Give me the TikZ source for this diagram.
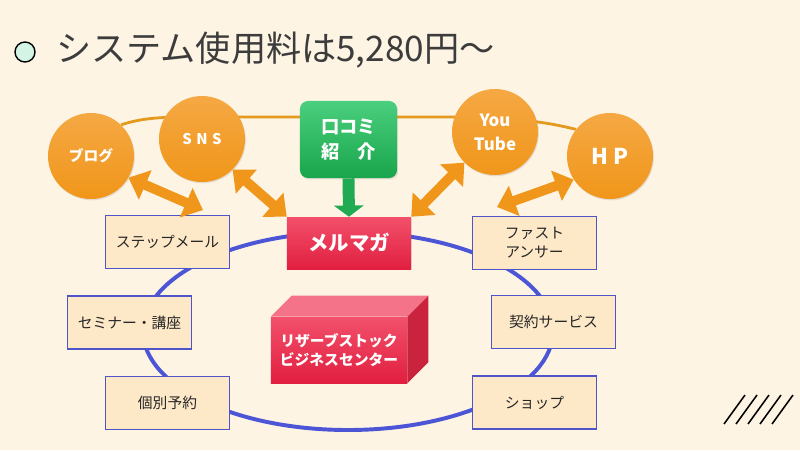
\documentclass[tikz,border=0pt]{standalone}
\usepackage{fontspec}
\setmainfont{Noto Sans CJK JP}
\usetikzlibrary{arrows.meta,shadows}

\definecolor{bgcream}{HTML}{FDF4E4}
\definecolor{orbitorange}{HTML}{E39A1E}
\definecolor{ballorange}{HTML}{F0961A}
\definecolor{balltop}{HTML}{F5A843}
\definecolor{ringblue}{HTML}{4B55D6}
\definecolor{menufill}{HTML}{FDE8C8}
\definecolor{menuline}{HTML}{4F55C8}
\definecolor{magtop}{HTML}{F2506B}
\definecolor{magbottom}{HTML}{E11F40}
\definecolor{cubetop}{HTML}{F57389}
\definecolor{cubeside}{HTML}{C9233E}
\definecolor{greentop}{HTML}{4ACF7E}
\definecolor{greenbottom}{HTML}{19A54B}
\definecolor{titlegray}{HTML}{3C3C3C}
\definecolor{mintdot}{HTML}{D4F4E6}

\pgfdeclarelayer{bg}
\pgfdeclarelayer{behind}
\pgfsetlayers{bg,behind,main}

\tikzset{
  media/.style={circle, minimum size=2.15cm, inner sep=0pt, top color=balltop, bottom color=ballorange,
    text=white, align=center, font=\bfseries\fontsize{10.5}{17}\selectfont,
    drop shadow={opacity=0.2, shadow xshift=0.6pt, shadow yshift=-0.9pt}},
  menu/.style={rectangle, draw=menuline, line width=1.1pt, fill=menufill, minimum width=3.1cm,
    minimum height=1.32cm, inner sep=0pt, align=center, text=black!85,
    font=\fontsize{10.5}{13.5}\selectfont},
  redbox/.style={rectangle, top color=magtop, bottom color=magbottom, inner sep=0pt, text=white,
    align=center, drop shadow={opacity=0.2, shadow xshift=0.8pt, shadow yshift=-1pt}},
  dblarrow/.style={draw=ballorange, line width=7pt,
    {Triangle[width=22pt,length=13pt]}-{Triangle[width=22pt,length=13pt]}},
  downarrow/.style={draw=greenbottom!85!greentop, line width=8.5pt,
    -{Triangle[width=21pt,length=8pt]}},
}

\begin{document}
\begin{tikzpicture}[x=0.025cm, y=-0.025cm]
  \begin{pgfonlayer}{bg}
    \fill[bgcream] (0,0) rectangle (800,450);
  \end{pgfonlayer}
  \useasboundingbox (0,0) rectangle (800,450);

  % title
  \node[circle, draw=black, line width=1pt, fill=mintdot, minimum size=0.5cm, inner sep=0pt] (dot) at (25,52) {};
  \node[anchor=west, inner sep=0pt, text=titlegray, font=\fontsize{25}{30}\selectfont] (title) at (56,50) {システム使用料は5,280円～};

  % media
  \node[media] (blog) at (91,156) {ブログ};
  \node[media] (sns) at (202,139) {S\hspace{0.3em}N\hspace{0.3em}S};
  \node[media, font=\bfseries\fontsize{12}{17}\selectfont] (yt) at (495,132) {You\\Tube};
  \node[media, font=\bfseries\fontsize{15.5}{18}\selectfont] (hp) at (610,156) {H P};

  % word of mouth, mail magazine
  \node[rounded corners=0.2cm, top color=greentop, bottom color=greenbottom, minimum width=2.425cm,
    minimum height=1.925cm, inner sep=0pt, text=white, align=center,
    font=\bfseries\fontsize{13}{17.5}\selectfont,
    drop shadow={opacity=0.2, shadow xshift=0.8pt, shadow yshift=-1pt}] (kuchi) at (348.5,139.5) {口コミ\\紹　介};
  \node[redbox, minimum width=3.1cm, minimum height=1.3cm, font=\bfseries\fontsize{14.5}{17}\selectfont] (mag) at (349,243) {メルマガ};

  % menus
  \node[menu] (step) at (167.5,242) {ステップメール};
  \node[menu] (semi) at (129.5,322.5) {セミナー・講座};
  \node[menu] (kobetsu) at (167.5,403) {個別予約};
  \node[menu] (fast) at (534.5,243) {ファスト\\アンサー};
  \node[menu] (keiyaku) at (553.5,322) {契約サービス};
  \node[menu] (shop) at (534.5,402.5) {ショップ};

  \begin{pgfonlayer}{behind}
    \draw[ringblue, line width=2.8pt] (348,331) ellipse [x radius=205, y radius=99];
    \draw[orbitorange, line width=2pt] (blog.46) .. controls (150,115) and (180,117) .. (250,117)
      -- (440,117) .. controls (520,117) and (550,123) .. (hp.142);
  \end{pgfonlayer}

  % arrows
  \coordinate (stepjoin) at (203,210);
  \coordinate (fastjoin) at (497,207);
  \draw[dblarrow] (blog.-30) -- (stepjoin);
  \draw[dblarrow] (sns.-45) -- (mag.north west);
  \draw[dblarrow] (yt.-135) -- (mag.north east);
  \draw[dblarrow] (hp.-147) -- (fastjoin);
  \draw[downarrow] (kuchi.south) -- (mag.north);

  % center block
  \node[redbox, minimum width=3.4cm, minimum height=1.65cm, font=\bfseries\fontsize{10.5}{14}\selectfont] (cube) at (339,350) {リザーブストック\\ビジネスセンター};
  \fill[cubetop] (cube.north west) -- ++(21,-21) -- ([shift={(21,-21)}]cube.north east) -- (cube.north east) -- cycle;
  \fill[cubeside] (cube.north east) -- ++(21,-21) -- ([shift={(21,-21)}]cube.south east) -- (cube.south east) -- cycle;

  % hatch
  \foreach \i in {0,...,4}
    \draw[line width=1.1pt] (724+12*\i,424) -- (745+12*\i,395);
\end{tikzpicture}
\end{document}
